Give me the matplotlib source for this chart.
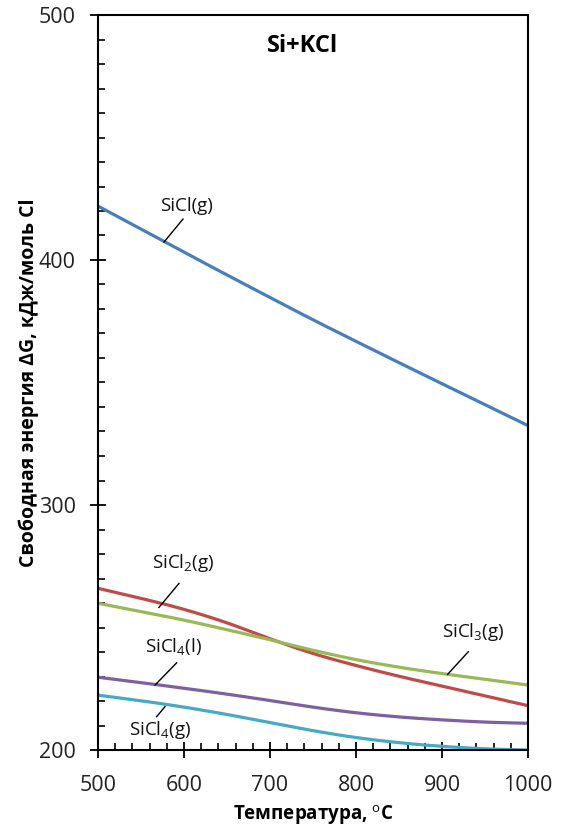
import numpy as np
import matplotlib
matplotlib.use('Agg')
import matplotlib.pyplot as plt
from matplotlib.ticker import MultipleLocator

plt.rcParams['font.family'] = ['Open Sans', 'DejaVu Sans']
plt.rcParams['mathtext.fontset'] = 'custom'
plt.rcParams['mathtext.rm'] = 'Open Sans'

# температура, °C
T = [500, 550, 600, 650, 700, 750, 800, 850, 900, 950, 1000]

# свободная энергия, кДж/моль Cl
sicl_g = [422.0, 412.6, 403.2, 393.9, 384.7, 375.6, 366.8, 358.1, 349.5, 341.0, 332.4]
sicl2_g = [266.0, 261.9, 257.4, 251.9, 245.4, 239.4, 234.5, 230.1, 226.1, 222.1, 218.1]
sicl3_g = [259.9, 256.5, 253.0, 249.1, 245.0, 240.7, 236.9, 233.8, 231.2, 228.9, 226.5]
sicl4_l = [229.7, 227.5, 225.2, 222.8, 220.2, 217.5, 215.2, 213.5, 212.3, 211.4, 210.9]
sicl4_g = [222.4, 220.1, 217.5, 214.5, 211.2, 207.9, 205.1, 203.0, 201.5, 200.5, 200.0]

series = [sicl_g, sicl2_g, sicl3_g, sicl4_l, sicl4_g]
colors = ['#4A7EBB', '#BE4B48', '#98B954', '#7D60A0', '#46AAC5']

# подписи: текст, позиция текста, начало и конец выноски
labels = ['SiCl(g)', 'SiCl$_2$(g)', 'SiCl$_3$(g)', 'SiCl$_4$(l)', 'SiCl$_4$(g)']
label_xy = [(603, 422), (599, 276.3), (936, 248.2), (588, 241.8), (572, 208.2)]
leader_from = [(598.8, 416.7), (594.2, 268.0), (930.6, 240.1), (591.5, 235.6), (577.9, 217.7)]
leader_to = [(576.7, 407.3), (570.9, 258.2), (906.6, 230.9), (566.3, 226.5), (568.2, 213.6)]


def smooth(x, y, n=20):
    # кривая Катмулла-Рома через точки
    x = np.asarray(x, float)
    y = np.asarray(y, float)
    px = np.concatenate([[2 * x[0] - x[1]], x, [2 * x[-1] - x[-2]]])
    py = np.concatenate([[2 * y[0] - y[1]], y, [2 * y[-1] - y[-2]]])
    xs, ys = [], []
    t = np.linspace(0, 1, n, endpoint=False)
    for i in range(1, len(px) - 2):
        for p, out in ((px, xs), (py, ys)):
            p0, p1, p2, p3 = p[i - 1], p[i], p[i + 1], p[i + 2]
            out.extend(0.5 * (2 * p1 + (-p0 + p2) * t + (2 * p0 - 5 * p1 + 4 * p2 - p3) * t ** 2
                              + (-p0 + 3 * p1 - 3 * p2 + p3) * t ** 3))
    xs.append(x[-1])
    ys.append(y[-1])
    return xs, ys


fig = plt.figure(figsize=(5.71, 8.31), dpi=100)
ax = fig.add_axes([98 / 571, 81 / 831, 430 / 571, 735 / 831])

for y, c in zip(series, colors):
    xs, ys = smooth(T, y)
    ax.plot(xs, ys, color=c, lw=2.3, solid_capstyle='butt')

for s, (tx, ty), (x1, y1), (x2, y2) in zip(labels, label_xy, leader_from, leader_to):
    ax.text(tx, ty, s, ha='center', va='center', fontsize=13.5, color='#111111')
    ax.plot([x1, x2], [y1, y2], color='black', lw=1.0)

ax.text(738, 487.3, 'Si+KCl', ha='center', va='center', fontsize=17, fontweight='bold')

ax.set_xlim(500, 1000)
ax.set_ylim(200, 500)
ax.xaxis.set_major_locator(MultipleLocator(100))
ax.xaxis.set_minor_locator(MultipleLocator(20))
ax.yaxis.set_major_locator(MultipleLocator(100))
ax.yaxis.set_minor_locator(MultipleLocator(10))
ax.tick_params(which='major', direction='inout', length=12, width=1.3, labelsize=15.5,
               labelcolor='#222222')
ax.tick_params(axis='x', which='major', pad=12)
ax.tick_params(axis='y', which='major', pad=10)
ax.tick_params(which='minor', direction='in', length=5, width=1.2)
for sp in ax.spines.values():
    sp.set_linewidth(1.5)

ax.set_xlabel('Температура, $^{\\rm o}$C', fontsize=13.5, fontweight='bold', labelpad=5)
ax.set_ylabel('Свободная энергия ΔG, кДж/моль Cl', fontsize=14, fontweight='bold', labelpad=0)

fig.savefig('out.png', dpi=100)
